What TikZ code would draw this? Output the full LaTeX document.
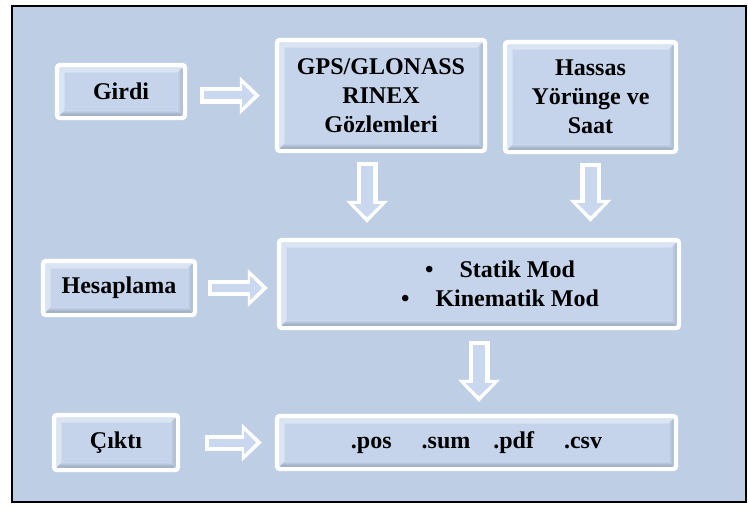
\documentclass[tikz,border=0pt]{standalone}
\usepackage{fontspec}
\setmainfont{Liberation Serif}
\usetikzlibrary{arrows.meta, calc}
\definecolor{BgBlue}{HTML}{BECFE5}
\definecolor{Face}{HTML}{C5D4EA}
\definecolor{BevLight}{HTML}{DAE4F2}
\definecolor{BevDark}{HTML}{7F8DA1}
\definecolor{BevMid}{HTML}{9AA9BD}
\definecolor{ArrBlue}{HTML}{C9D8EE}
\tikzset{
    box/.style={draw=white, line width=2.2pt, rounded corners=1.5pt, fill=Face, align=center, inner sep=0pt,
        path picture={
            \path (path picture bounding box.north west) coordinate (bnw)
                  (path picture bounding box.north east) coordinate (bne)
                  (path picture bounding box.south west) coordinate (bsw)
                  (path picture bounding box.south east) coordinate (bse);
            \fill[BevLight, sharp corners] (bnw) -- (bne) -- ($(bne)+(-3.8pt,-3.8pt)$) -- ($(bnw)+(3.8pt,-3.8pt)$) -- cycle;
            \fill[BevLight, sharp corners] (bnw) -- (bsw) -- ($(bsw)+(3.8pt,3.8pt)$) -- ($(bnw)+(3.8pt,-3.8pt)$) -- cycle;
            \shade[top color=Face, bottom color=BevDark, sharp corners] (bsw) -- (bse) -- ($(bse)+(-3.8pt,3.8pt)$) -- ($(bsw)+(3.8pt,3.8pt)$) -- cycle;
            \shade[left color=Face, right color=BevMid, sharp corners] (bse) -- (bne) -- ($(bne)+(-3.8pt,-3.8pt)$) -- ($(bse)+(-3.8pt,3.8pt)$) -- cycle;
        }},
    hout/.style 2 args={white, line width=8pt, shorten <=#1, shorten >=#2, -{Triangle[length=10pt, width=19pt, line width=0pt]}},
    hin/.style 2 args={ArrBlue, line width=4pt, shorten <=#1+2pt, shorten >=#2+2.8pt, -{Triangle[length=6pt, width=12pt, line width=0pt]}},
    vout/.style 2 args={white, line width=10.5pt, shorten <=#1, shorten >=#2, -{Triangle[length=11pt, width=21pt, line width=0pt]}},
    vin/.style 2 args={ArrBlue, line width=6pt, shorten <=#1+2pt, shorten >=#2+2.8pt, -{Triangle[length=6.5pt, width=13.5pt, line width=0pt]}}
}

\begin{document}
\begin{tikzpicture}[x=0.5pt, y=-0.5pt, font=\bfseries\fontsize{12}{14.5}\selectfont]
    \useasboundingbox[fill=white] (0, 0) rectangle (748, 508);
    \draw[black, line width=1pt, fill=BgBlue] (12, 6) rectangle (746, 502);
    % left column
    \node[box, minimum width=64pt, minimum height=26.5pt] (girdi) at (121, 91.5) {Girdi};
    \node[box, minimum width=76pt, minimum height=27pt] (hesap) at (119, 288) {Hesaplama};
    \node[box, minimum width=62pt, minimum height=27.5pt] (cikti) at (116, 442.5) {Çıktı};
    % right column
    \node[box, minimum width=104pt, minimum height=55.5pt] (gps) at (381, 95.5) {GPS/GLONASS\\RINEX\\Gözlemleri};
    \node[box, minimum width=85.5pt, minimum height=55pt] (hassas) at (590.5, 97) {Hassas\\Yörünge ve\\Saat};
    \node[box, minimum width=200pt, minimum height=44pt] (mod) at (479, 284)
        {\hspace*{21pt}\textbullet\hspace{13pt}Statik Mod\\\hspace*{21pt}\textbullet\hspace{13pt}Kinematik Mod};
    \node[box, minimum width=199.5pt, minimum height=26.5pt] (dosya) at (476.5, 442.5)
        {.pos\hspace{15pt}.sum\hspace{11.5pt}.pdf\hspace{15pt}.csv};
    % block arrows
    \draw[hout={6.5pt}{7.5pt}] (girdi.east |- gps.west) -- (gps.west);
    \draw[hin={6.5pt}{7.5pt}] (girdi.east |- gps.west) -- (gps.west);
    \draw[hout={5.5pt}{4.5pt}] (hesap.east) -- (hesap.east -| mod.west);
    \draw[hin={5.5pt}{4.5pt}] (hesap.east) -- (hesap.east -| mod.west);
    \draw[hout={12.5pt}{6.5pt}] (cikti.east) -- (dosya.west);
    \draw[hin={12.5pt}{6.5pt}] (cikti.east) -- (dosya.west);
    \draw[vout={4.5pt}{7.5pt}] ([xshift=-7pt]gps.south) -- ([xshift=-7pt]gps.south |- mod.north);
    \draw[vin={4.5pt}{7.5pt}] ([xshift=-7pt]gps.south) -- ([xshift=-7pt]gps.south |- mod.north);
    \draw[vout={4.5pt}{8pt}] (hassas.south) -- (hassas.south |- mod.north);
    \draw[vin={4.5pt}{8pt}] (hassas.south) -- (hassas.south |- mod.north);
    \draw[vout={5.5pt}{6pt}] (mod.south) -- (mod.south |- dosya.north);
    \draw[vin={5.5pt}{6pt}] (mod.south) -- (mod.south |- dosya.north);
\end{tikzpicture}
\end{document}
